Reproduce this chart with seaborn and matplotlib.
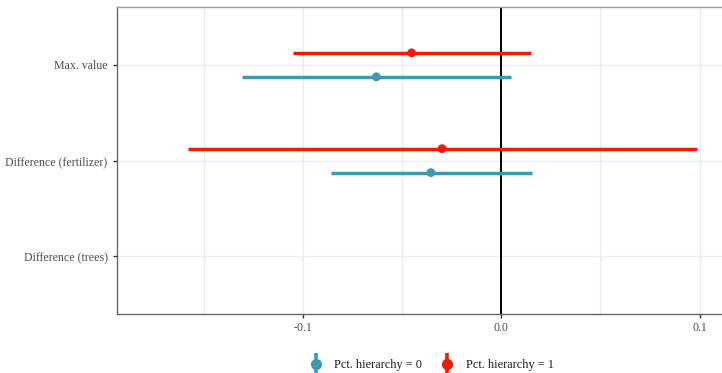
import numpy as np
import pandas as pd
import seaborn as sns
import matplotlib
matplotlib.use("Agg")
import matplotlib.pyplot as plt
from matplotlib.lines import Line2D
from matplotlib.legend_handler import HandlerTuple

# Model terms (top to bottom) and estimates with confidence intervals
terms = ["Max. value", "Difference (fertilizer)", "Difference (trees)"]
groups = ["Pct. hierarchy = 0", "Pct. hierarchy = 1"]
term_col = ["Max. value", "Max. value", "Difference (fertilizer)", "Difference (fertilizer)"]
group_col = ["Pct. hierarchy = 0", "Pct. hierarchy = 1", "Pct. hierarchy = 0", "Pct. hierarchy = 1"]
estimate = [-0.0630, -0.0452, -0.0355, -0.0298]
conf_low = [-0.1306, -0.1050, -0.0860, -0.1578]
conf_high = [0.0049, 0.0148, 0.0156, 0.0988]

palette = {"Pct. hierarchy = 0": "#3B9AB2", "Pct. hierarchy = 1": "#F21A00"}

df = pd.DataFrame({"term": term_col, "group": group_col, "estimate": estimate,
                   "low": conf_low, "high": conf_high})
dodge = {"Pct. hierarchy = 0": 0.125, "Pct. hierarchy = 1": -0.125}
df["y"] = [terms.index(t) + dodge[g] for t, g in zip(df["term"], df["group"])]

sns.set_theme(style="white")
plt.rcParams["font.family"] = ["Liberation Serif", "DejaVu Serif"]

fig = plt.figure(figsize=(7.22, 3.73), dpi=100)
ax = fig.add_axes([0.1616, 0.1582, 0.8384, 0.8222])

# grid
for x in [-0.15, -0.1, -0.05, 0.0, 0.05, 0.1]:
    ax.axvline(x, color="#EBEBEB", lw=1.0, zorder=0)
for i in range(len(terms)):
    ax.axhline(i, color="#EBEBEB", lw=1.0, zorder=0)
ax.axvline(0, color="black", lw=1.4, zorder=1)

for _, r in df.iterrows():
    ax.hlines(r["y"], r["low"], r["high"], color=palette[r["group"]], lw=2.5, zorder=2)
sns.scatterplot(data=df, x="estimate", y="y", hue="group", palette=palette,
                s=40, edgecolor="none", legend=False, ax=ax, zorder=3)

ax.set_xlim(-0.1939, 0.1113)
ax.set_ylim(len(terms) - 1 + 0.6, -0.6)
ax.set_yticks(range(len(terms)))
ax.set_yticklabels(terms)
ax.set_xticks([-0.1, 0.0, 0.1])
ax.set_xticklabels(["-0.1", "0.0", "0.1"])
ax.set_xlabel("")
ax.set_ylabel("")
ax.tick_params(axis="both", colors="#333333", labelcolor="#4D4D4D", labelsize=8.6,
               length=3, width=1.0, direction="out", bottom=True, left=True)
ax.tick_params(axis="x", pad=3)
for s in ["left", "bottom", "top"]:
    ax.spines[s].set_color("#666666")
    ax.spines[s].set_linewidth(1.0)
ax.spines["top"].set_color("#999999")
ax.spines["right"].set_visible(False)

handles = []
for g in groups:
    bar = Line2D([0], [0], color=palette[g], marker="|", markersize=16,
                 markeredgewidth=2.6, linestyle="none")
    dot = Line2D([0], [0], color=palette[g], marker="o", markersize=7,
                 linestyle="none")
    handles.append((bar, dot))
fig.legend(handles, groups, handler_map={tuple: HandlerTuple(ndivide=1)},
           loc="center", bbox_to_anchor=(0.597, 0.022), ncol=2, frameon=False,
           fontsize=8.8, handlelength=1.2, handletextpad=0.9, columnspacing=1.5,
           labelcolor="#1A1A1A")

fig.savefig("out.png", dpi=100)
